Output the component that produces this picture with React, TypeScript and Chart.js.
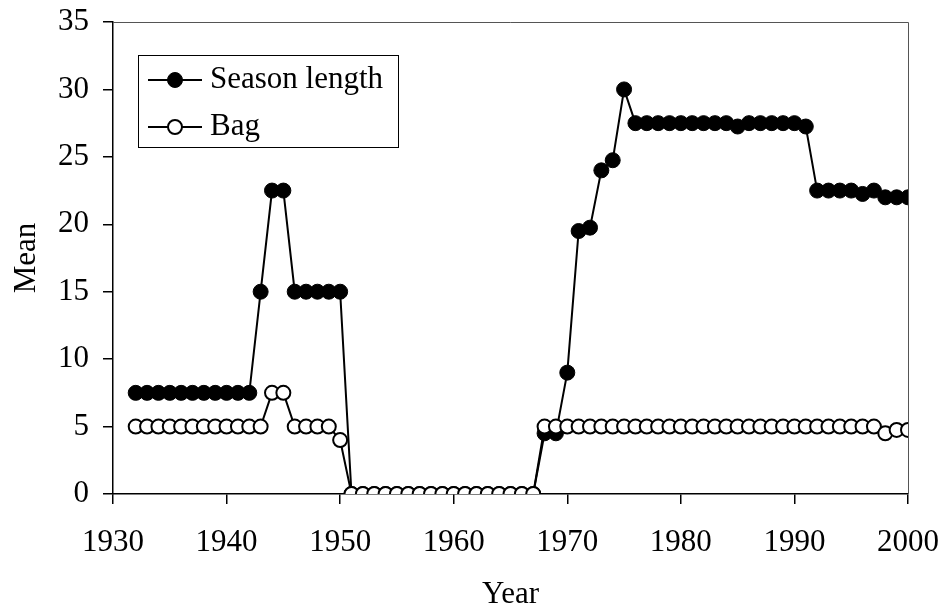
import React, { useEffect, useRef } from "react";
import { Chart, registerables } from "chart.js";

Chart.register(...registerables);

const years = [
  1932, 1933, 1934, 1935, 1936, 1937, 1938, 1939, 1940, 1941, 1942, 1943, 1944, 1945, 1946, 1947, 1948, 1949, 1950,
  1951, 1952, 1953, 1954, 1955, 1956, 1957, 1958, 1959, 1960, 1961, 1962, 1963, 1964, 1965, 1966, 1967,
  1968, 1969, 1970, 1971, 1972, 1973, 1974, 1975, 1976, 1977, 1978, 1979, 1980, 1981, 1982, 1983, 1984,
  1985, 1986, 1987, 1988, 1989, 1990, 1991, 1992, 1993, 1994, 1995, 1996, 1997, 1998, 1999, 2000,
];

const seasonLength = [
  7.5, 7.5, 7.5, 7.5, 7.5, 7.5, 7.5, 7.5, 7.5, 7.5, 7.5, 15, 22.5, 22.5, 15, 15, 15, 15, 15,
  0, 0, 0, 0, 0, 0, 0, 0, 0, 0, 0, 0, 0, 0, 0, 0, 0,
  4.5, 4.5, 9, 19.5, 19.75, 24, 24.75, 30, 27.5, 27.5, 27.5, 27.5, 27.5, 27.5, 27.5, 27.5, 27.5,
  27.25, 27.5, 27.5, 27.5, 27.5, 27.5, 27.25, 22.5, 22.5, 22.5, 22.5, 22.25, 22.5, 22, 22, 22,
];

const bag = [
  5, 5, 5, 5, 5, 5, 5, 5, 5, 5, 5, 5, 7.5, 7.5, 5, 5, 5, 5, 4,
  0, 0, 0, 0, 0, 0, 0, 0, 0, 0, 0, 0, 0, 0, 0, 0, 0,
  5, 5, 5, 5, 5, 5, 5, 5, 5, 5, 5, 5, 5, 5, 5, 5, 5,
  5, 5, 5, 5, 5, 5, 5, 5, 5, 5, 5, 5, 5, 4.5, 4.75, 4.75,
];

const seriesLabels = ["Season length", "Bag"];
const xTitle = "Year";
const yTitle = "Mean";

const FONT = "'Liberation Serif', 'Times New Roman', serif";
const FS = 31;

const framePlugin = {
  id: "frame",
  afterDatasetsDraw(chart: any) {
    const { ctx, chartArea } = chart;
    ctx.save();
    ctx.strokeStyle = "#555";
    ctx.lineWidth = 1;
    ctx.beginPath();
    ctx.moveTo(chartArea.left, chartArea.top + 0.5);
    ctx.lineTo(chartArea.right + 0.5, chartArea.top + 0.5);
    ctx.lineTo(chartArea.right + 0.5, chartArea.bottom);
    ctx.stroke();
    ctx.restore();
  },
};

const legendPlugin = {
  id: "customLegend",
  afterDraw(chart: any) {
    const { ctx, chartArea } = chart;
    const bx = chartArea.left + 25;
    const by = chartArea.top + 33;
    const bw = 260;
    const bh = 92;
    ctx.save();
    ctx.fillStyle = "#fff";
    ctx.fillRect(bx, by, bw, bh);
    ctx.strokeStyle = "#000";
    ctx.lineWidth = 1;
    ctx.strokeRect(bx + 0.5, by + 0.5, bw, bh);
    const order = [1, 0];
    order.forEach((di, i) => {
      const ds = chart.data.datasets[di];
      const cy = by + 25 + i * 47;
      ctx.strokeStyle = "#000";
      ctx.lineWidth = 2;
      ctx.beginPath();
      ctx.moveTo(bx + 10, cy);
      ctx.lineTo(bx + 64, cy);
      ctx.stroke();
      ctx.beginPath();
      ctx.arc(bx + 37, cy, ds.pointRadius, 0, Math.PI * 2);
      ctx.fillStyle = ds.pointBackgroundColor;
      ctx.fill();
      ctx.lineWidth = ds.pointBorderWidth;
      ctx.strokeStyle = ds.pointBorderColor;
      ctx.stroke();
      ctx.fillStyle = "#000";
      ctx.font = `${FS}px ${FONT}`;
      ctx.textBaseline = "middle";
      ctx.textAlign = "left";
      ctx.fillText(ds.label, bx + 72, cy);
    });
    ctx.restore();
  },
};

export default function App() {
  const ref = useRef<HTMLCanvasElement>(null);
  useEffect(() => {
    document.body.style.margin = "0";
    const canvas = ref.current!;
    const chart = new Chart(canvas, {
      type: "line",
      data: {
        datasets: [
          {
            label: seriesLabels[1],
            data: years.map((y, i) => ({ x: y, y: bag[i] })),
            borderColor: "#000",
            borderWidth: 2,
            pointRadius: 7,
            pointBackgroundColor: "#fff",
            pointBorderColor: "#000",
            pointBorderWidth: 2,
            tension: 0,
            order: 0,
          },
          {
            label: seriesLabels[0],
            data: years.map((y, i) => ({ x: y, y: seasonLength[i] })),
            borderColor: "#000",
            borderWidth: 2,
            pointRadius: 7.5,
            pointBackgroundColor: "#000",
            pointBorderColor: "#000",
            pointBorderWidth: 1,
            tension: 0,
            order: 1,
          },
        ],
      },
      options: {
        animation: false,
        responsive: false,
        layout: { padding: { left: 0, top: 22, right: 38, bottom: 0 } },
        plugins: { legend: { display: false }, tooltip: { enabled: false } },
        scales: {
          x: {
            type: "linear",
            min: 1930,
            max: 2000,
            ticks: { stepSize: 10, color: "#000", font: { family: FONT, size: FS }, padding: 20, callback: (v: any) => String(v) },
            grid: { drawOnChartArea: false, drawTicks: true, tickLength: 10, color: "#000", lineWidth: 1.5 },
            border: { color: "#000", width: 1.5 },
            title: { display: true, text: xTitle, color: "#000", font: { family: FONT, size: FS }, padding: { top: 0, bottom: 0 } },
            afterFit: (s: any) => { s.height = 119; s.paddingLeft = 0; s.paddingRight = 0; },
          },
          y: {
            min: 0,
            max: 35,
            ticks: { stepSize: 5, color: "#000", font: { family: FONT, size: FS }, padding: 14 },
            grid: { drawOnChartArea: false, drawTicks: true, tickLength: 10, color: "#000", lineWidth: 1.5 },
            border: { color: "#000", width: 1.5 },
            title: { display: true, text: yTitle, color: "#000", font: { family: FONT, size: FS }, padding: { top: 8, bottom: 0 } },
            afterFit: (s: any) => { s.width = 113; s.paddingTop = 0; s.paddingBottom = 0; },
          },
        },
      },
      plugins: [framePlugin, legendPlugin],
    });
    return () => chart.destroy();
  }, []);
  return (
    <div style={{ width: 946, height: 613, background: "#fff" }}>
      <canvas ref={ref} width={946} height={613} style={{ display: "block" }} />
    </div>
  );
}
